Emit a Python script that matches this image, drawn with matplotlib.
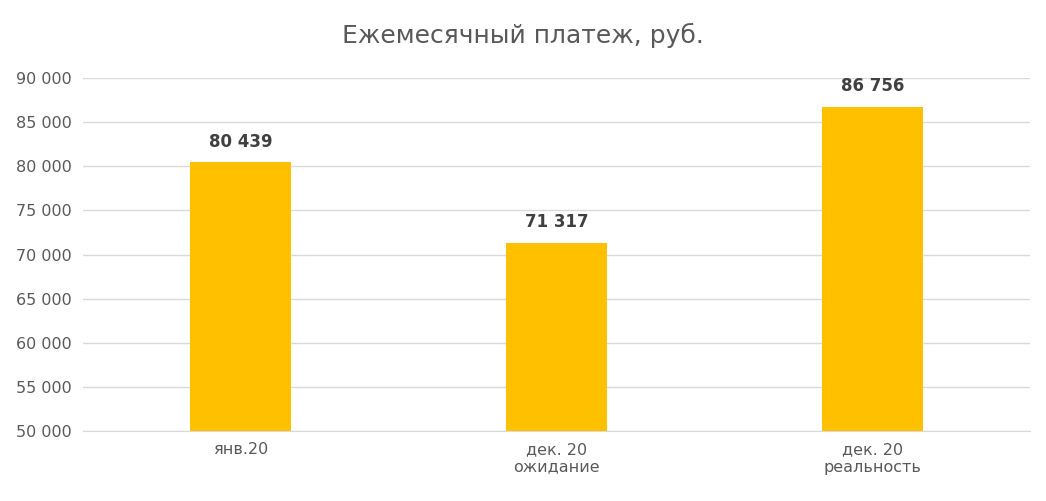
import matplotlib
matplotlib.use("Agg")
import matplotlib.pyplot as plt

categories = ["янв.20", "дек. 20\nожидание", "дек. 20\nреальность"]
values = [80439, 71317, 86756]
yticks = [50000, 55000, 60000, 65000, 70000, 75000, 80000, 85000, 90000]

def fmt(v):
    return f"{v:,}".replace(",", " ")

fig = plt.figure(figsize=(10.46, 5.01), dpi=100)
ax = fig.add_axes([0.0793, 0.1397, 0.9057, 0.7046])
x = range(len(categories))
ax.bar(x, values, width=0.32, color="#FFC000", zorder=3)
for xi, v in zip(x, values):
    ax.text(xi, v + 1300, fmt(v), ha="center", va="bottom", fontsize=12,
            fontweight="bold", color="#404040")
ax.set_xlim(-0.5, 2.5)
ax.set_ylim(50000, 90000)
ax.set_yticks(yticks)
ax.set_yticklabels([fmt(t) for t in yticks], fontsize=11.5, color="#595959")
ax.set_xticks(list(x))
ax.set_xticklabels(categories, fontsize=11.5, color="#595959")
ax.grid(axis="y", color="#d9d9d9", linewidth=1, zorder=0)
for s in ax.spines.values():
    s.set_visible(False)
ax.spines["bottom"].set_visible(True)
ax.spines["bottom"].set_color("#d9d9d9")
ax.tick_params(length=0, pad=8)
fig.suptitle("Ежемесячный платеж, руб.", y=0.955, fontsize=18, color="#595959")
fig.savefig("out.png", dpi=100, facecolor="white")
